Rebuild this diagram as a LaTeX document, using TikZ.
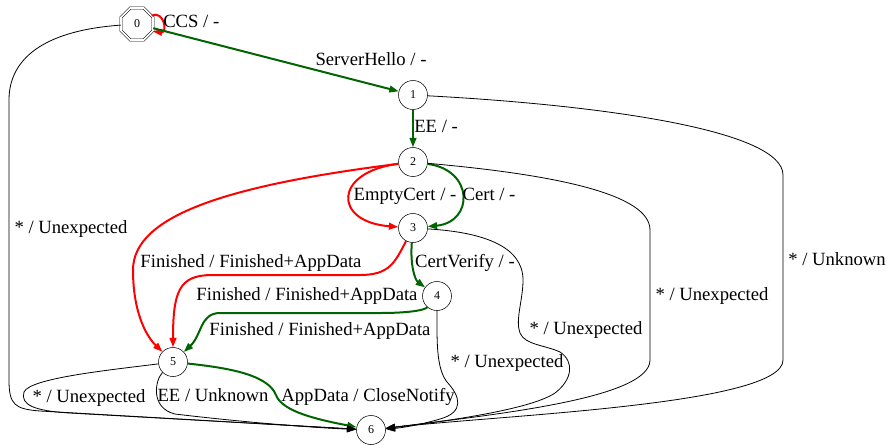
\documentclass[tikz,border=0pt]{standalone}
\usepackage{fontspec}
\setmainfont{Liberation Serif}
\definecolor{okgreen}{RGB}{0, 100, 0}
\definecolor{badred}{RGB}{255, 0, 0}
\usepackage{tikz}
\usetikzlibrary{shapes.geometric, arrows.meta}

\begin{document}
\begin{tikzpicture}[x=0.75pt, y=-0.75pt,
  state/.style={draw, circle, minimum size=21.75pt, inner sep=0pt, font=\fontsize{9}{10}\selectfont},
  initstate/.style={draw, regular polygon, regular polygon sides=8, double, double distance=1.4pt, minimum size=26pt, inner sep=0pt, font=\fontsize{9}{10}\selectfont},
  tr/.style={-{Triangle[length=7pt, width=5pt]}, line width=0.6pt},
  goodtr/.style={tr, okgreen, line width=1.5pt},
  badtr/.style={tr, badred, line width=1.5pt},
  lbl/.style={font=\fontsize{14}{16}\selectfont, inner sep=0pt, text height=11pt, text depth=3pt}]
  \useasboundingbox (0,0) rectangle (888,444);

  % States
  \node[initstate] (n0) at (137, 24) {0};
  \node[state] (n1) at (413, 95) {1};
  \node[state] (n2) at (413, 162) {2};
  \node[state] (n3) at (413, 228) {3};
  \node[state] (n4) at (437, 296) {4};
  \node[state] (n5) at (173, 362) {5};
  \node[state] (n6) at (371, 430) {6};

  % Happy path
  \draw[badtr] (n0.30) .. controls (164, 10) and (168, 33) .. (n0.-25);
  \node[lbl, anchor=west] (lccs) at (163, 22) {CCS / -};
  \draw[goodtr] (n0) -- (n1);
  \node[lbl] (lsh) at (371, 60) {ServerHello / -};
  \draw[goodtr] (n1) -- (n2);
  \node[lbl, anchor=west] (lee) at (414, 127) {EE / -};
  \draw[badtr] (n2) .. controls (333, 172) and (333, 222) .. (n3);
  \node[lbl] (lempty) at (405, 195) {EmptyCert / -};
  \draw[goodtr] (n2) .. controls (474, 170) and (474, 222) .. (n3);
  \node[lbl] (lcert) at (489, 195) {Cert / -};
  \draw[goodtr] (n3) .. controls (410, 265) and (415, 280) .. (n4);
  \node[lbl] (lcv) at (465, 262) {CertVerify / -};

  % Finished into 5
  \draw[badtr] (n2) .. controls (230, 185) and (133, 215) .. (133, 270)
    .. controls (133, 310) and (145, 335) .. (n5);
  \node[lbl] (lfin2) at (251, 262) {Finished / Finished+AppData};
  \draw[badtr] (n3) .. controls (395, 262) and (390, 275) .. (360, 275) -- (210, 275)
    .. controls (180, 276) and (173, 290) .. (n5);
  \node[lbl] (lfin3) at (307, 295) {Finished / Finished+AppData};
  \draw[goodtr] (n4) .. controls (425, 310) and (410, 313) .. (380, 313) -- (220, 313)
    .. controls (200, 313) and (202, 335) .. (n5);
  \node[lbl] (lfin4) at (320, 330) {Finished / Finished+AppData};

  % Into 6
  \draw[goodtr] (n5) .. controls (230, 368) and (268, 375) .. (276, 395)
    .. controls (282, 412) and (320, 420) .. (n6);
  \node[lbl] (lapp) at (368, 396) {AppData / CloseNotify};
  \draw[tr] (n5) .. controls (155, 380) and (150, 408) .. (175, 414)
    .. controls (250, 423) and (320, 428) .. (n6);
  \node[lbl] (lee5) at (213, 396) {EE / Unknown};
  \draw[tr] (n5) .. controls (110, 370) and (30, 378) .. (24, 392)
    .. controls (20, 405) and (35, 411) .. (70, 413) -- (n6);
  \node[lbl] (lun5) at (89, 397) {* / Unexpected};
  \draw[tr] (n0) .. controls (50, 30) and (9, 55) .. (9, 100) -- (9, 380)
    .. controls (9, 405) and (15, 409) .. (40, 411) -- (n6);
  \node[lbl] (lun0) at (71, 228) {* / Unexpected};
  \draw[tr] (n1) .. controls (600, 105) and (783, 130) .. (783, 175) -- (783, 360)
    .. controls (783, 405) and (500, 415) .. (n6);
  \node[lbl] (lunk1) at (837, 260) {* / Unknown};
  \draw[tr] (n2) .. controls (560, 175) and (650, 195) .. (650, 230) -- (650, 360)
    .. controls (650, 398) and (500, 414) .. (n6);
  \node[lbl] (lun2) at (712, 295) {* / Unexpected};
  \draw[tr] (n3) .. controls (480, 232) and (523, 245) .. (523, 280)
    .. controls (523, 300) and (515, 320) .. (520, 333)
    .. controls (525, 345) and (545, 345) .. (560, 352)
    .. controls (575, 362) and (572, 380) .. (555, 393)
    .. controls (530, 410) and (440, 422) .. (n6);
  \node[lbl] (lun3) at (586, 329) {* / Unexpected};
  \draw[tr] (n4) .. controls (437, 340) and (436, 368) .. (447, 382)
    .. controls (460, 396) and (465, 412) .. (440, 419)
    .. controls (420, 425) and (400, 428) .. (n6);
  \node[lbl] (lun4) at (507, 362) {* / Unexpected};
\end{tikzpicture}
\end{document}
